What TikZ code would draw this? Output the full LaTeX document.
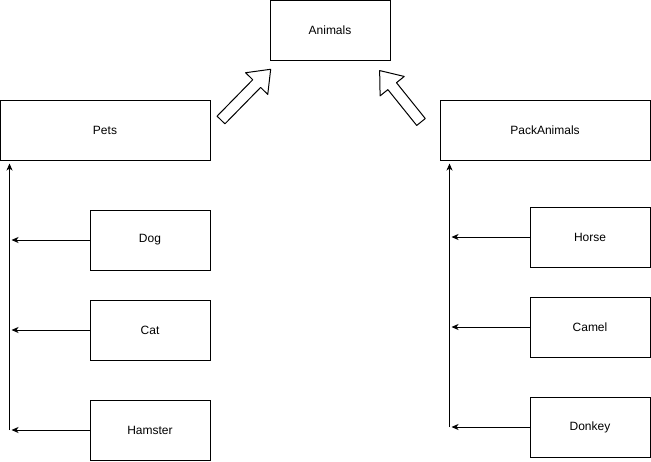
\documentclass[tikz,border=0pt]{standalone}
\usepackage{fontspec}
\setmainfont{Liberation Sans}
\usetikzlibrary{arrows.meta}

\begin{document}
\begin{tikzpicture}[x=1pt, y=-1pt, line width=1pt,
  font=\fontsize{12}{14}\selectfont,
  box/.style={draw, minimum width=120pt, minimum height=60pt, inner sep=0pt},
  widebox/.style={box, minimum width=210pt},
  link/.style={-{Stealth[length=7pt, width=6pt, inset=2pt]}, shorten >=2pt},
  hollow/.style={draw, fill=white, line join=round}]

% Parameters
\def\lx{9.5}    % left vertical line x
\def\rx{449.5}  % right vertical line x

\useasboundingbox (0,0) rectangle (651,461);

% Boxes
\node[box] (animals) at (330,30) {Animals};
\node[widebox] (pets) at (105,130) {Pets};
\node[widebox] (pack) at (545,130) {PackAnimals};

\node[box] (dog) at (150,240) {Dog};
\node[box] (cat) at (150,330) {Cat};
\node[box] (hamster) at (150,430) {Hamster};

\node[box] (horse) at (590,237) {Horse};
\node[box] (camel) at (590,327) {Camel};
\node[box] (donkey) at (590,427) {Donkey};

% Collector lines
\coordinate (lbot) at (\lx,430);
\coordinate (rbot) at (\rx,427);
\draw[link, shorten >=3pt] (lbot) -- (lbot |- pets.south);
\draw[link, shorten >=3pt] (rbot) -- (rbot |- pack.south);

% Children into the collector lines
\foreach \n in {dog, cat, hamster}
  \draw[link] (\n.west) -- (\n.west -| lbot);
\foreach \n in {horse, camel, donkey}
  \draw[link] (\n.west) -- (\n.west -| rbot);

% Hollow block arrows up to Animals
\coordinate (tailL) at (221,120);
\coordinate (tailR) at (421,122);
\begin{scope}[shift={(tailL)}, rotate=45.6]
  \draw[hollow] (0,-5.5) -- (51,-5.5) -- (51,-15.5) -- (71,0)
    -- (51,15.5) -- (51,5.5) -- (0,5.5) -- cycle;
\end{scope}
\begin{scope}[shift={(tailR)}, rotate=128.8]
  \draw[hollow] (0,-5.5) -- (46,-5.5) -- (46,-15.5) -- (66,0)
    -- (46,15.5) -- (46,5.5) -- (0,5.5) -- cycle;
\end{scope}

\end{tikzpicture}
\end{document}
